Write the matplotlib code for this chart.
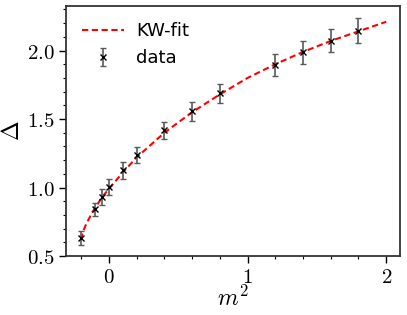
import matplotlib
matplotlib.use("Agg")
import matplotlib.pyplot as plt
from matplotlib.ticker import MultipleLocator, FuncFormatter

plt.rcParams['mathtext.fontset'] = 'cm'

# data points with error bars
m2 = [-0.2, -0.1, -0.05, 0.0, 0.1, 0.2, 0.4, 0.6, 0.8, 1.2, 1.4, 1.6, 1.8]
delta = [0.634, 0.841, 0.931, 1.004, 1.126, 1.236, 1.417, 1.558, 1.687, 1.894, 1.987, 2.072, 2.145]
err = [0.05, 0.05, 0.055, 0.055, 0.06, 0.06, 0.065, 0.07, 0.07, 0.08, 0.085, 0.085, 0.09]

# KW-fit curve
fit_x = [-0.2, -0.19, -0.17, -0.15, -0.12, -0.1, -0.05, 0.0, 0.05, 0.1, 0.2, 0.3, 0.4,
         0.6, 0.8, 1.0, 1.2, 1.4, 1.6, 1.8, 2.0]
fit_y = [0.62, 0.67, 0.72, 0.76, 0.82, 0.85, 0.93, 0.99, 1.05, 1.11, 1.22, 1.31, 1.40,
         1.55, 1.68, 1.80, 1.90, 1.99, 2.07, 2.14, 2.21]

fig = plt.figure(figsize=(4.07, 3.15), dpi=100)
ax = fig.add_axes([0.162, 0.187, 0.821, 0.794])

ax.plot(fit_x, fit_y, color='red', ls='--', lw=1.5, dashes=(3, 1.7), label='KW-fit')
ax.errorbar(m2, delta, yerr=err, fmt='x', color='black', ms=4, mew=1,
            ecolor='0.35', elinewidth=1.2, capsize=2, capthick=1, label='data')

ax.set_xlim(-0.31, 2.1)
ax.set_ylim(0.5, 2.325)
ax.xaxis.set_major_locator(MultipleLocator(1))
ax.xaxis.set_minor_locator(MultipleLocator(0.2))
ax.yaxis.set_major_locator(MultipleLocator(0.5))
ax.yaxis.set_minor_locator(MultipleLocator(0.1))
ax.xaxis.set_major_formatter(FuncFormatter(lambda v, p: r'$%d$' % round(v)))
ax.yaxis.set_major_formatter(FuncFormatter(lambda v, p: r'$%.1f$' % v))
ax.tick_params(which='major', direction='out', length=5, width=1, labelsize=15, pad=3)
ax.tick_params(which='minor', direction='out', length=2.5, width=0.8)
for s in ax.spines.values():
    s.set_linewidth(1.3)
    s.set_color('0.2')

ax.set_xlabel(r'$m^2$', fontsize=17)
ax.set_ylabel(r'$\Delta$', fontsize=17)
ax.xaxis.set_label_coords(0.5, -0.12)
ax.yaxis.set_label_coords(-0.125, 0.5)

ax.legend(loc='upper left', frameon=False, fontsize=13, handlelength=2.3,
          borderaxespad=0.5, labelspacing=0.5, handletextpad=0.7)

plt.savefig('out.png', dpi=100)
